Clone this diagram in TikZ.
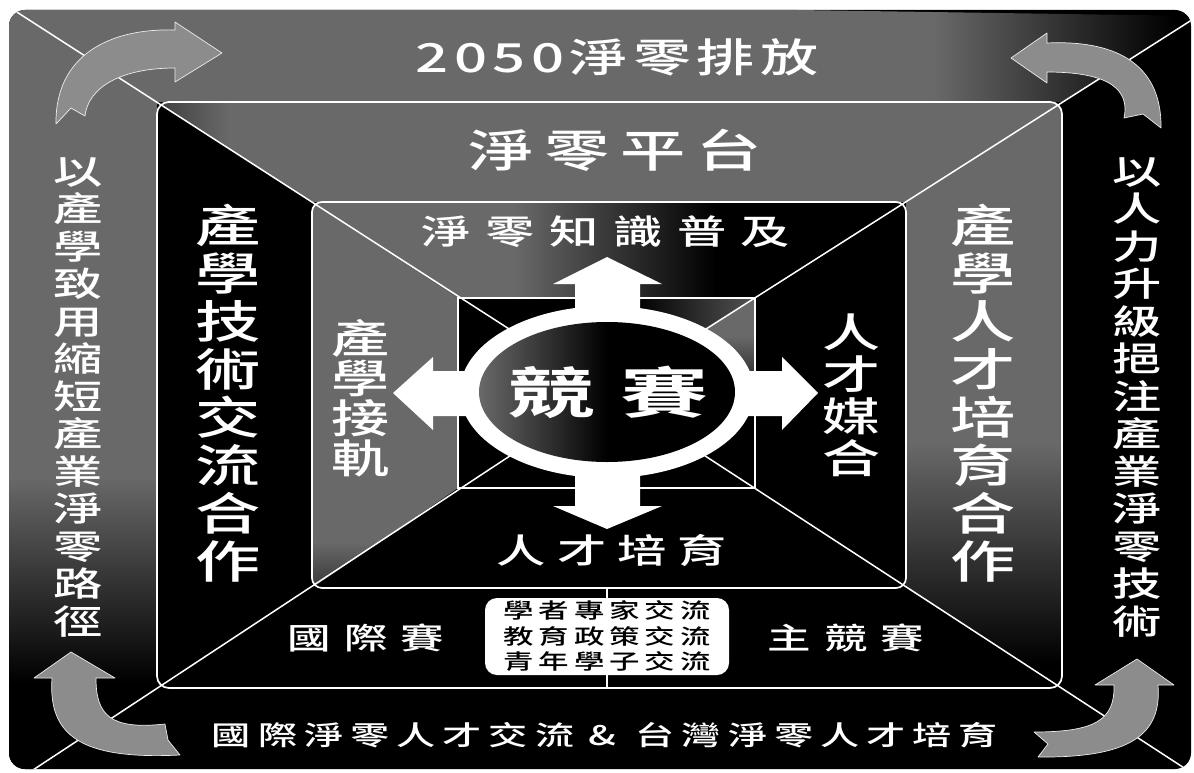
\documentclass[tikz,border=0pt]{standalone}
\usepackage{fontspec}
\newfontfamily\cjk{Noto Sans CJK TC Medium}[FakeStretch=1.45]
\newfontfamily\cjkw{Noto Sans CJK TC Bold}[FakeStretch=1.6]
\definecolor{texgray}{RGB}{105,105,105}
\definecolor{arrgray}{RGB}{140,140,140}
\pgfdeclarehorizontalshading{shOT}{100bp}{color(0bp)=(texgray); color(64bp)=(texgray); color(74bp)=(black); color(100bp)=(black)}
\pgfdeclareverticalshading{shOL}{100bp}{color(0bp)=(black); color(32bp)=(black); color(45bp)=(texgray); color(100bp)=(texgray)}
\pgfdeclarehorizontalshading{shMT}{100bp}{color(0bp)=(black); color(19bp)=(black); color(29bp)=(texgray); color(100bp)=(texgray)}
\pgfdeclareverticalshading{shMR}{100bp}{color(0bp)=(black); color(27bp)=(black); color(46bp)=(texgray); color(100bp)=(texgray)}
\pgfdeclarehorizontalshading{shIT}{100bp}{color(0bp)=(texgray); color(42bp)=(texgray); color(59bp)=(black); color(100bp)=(black)}
\pgfdeclareverticalshading{shIL}{100bp}{color(0bp)=(black); color(18bp)=(black); color(31bp)=(texgray); color(100bp)=(texgray)}
\pgfdeclarehorizontalshading{shST}{100bp}{color(0bp)=(black); color(55bp)=(black); color(80bp)=(texgray); color(100bp)=(texgray)}
\pgfdeclareverticalshading{shSR}{100bp}{color(0bp)=(black); color(45bp)=(black); color(65bp)=(texgray); color(100bp)=(texgray)}
\pgfdeclarehorizontalshading{shEL}{100bp}{color(0bp)=(texgray); color(25bp)=(texgray); color(50bp)=(black); color(100bp)=(black)}
\newcommand\lsp[2]{\def\lspk{#1}\lspaux#2\relax}
\def\lspaux#1#2{#1\ifx#2\relax\else\kern\lspk\relax\expandafter\lspaux\expandafter#2\fi}
\begin{document}
\begin{tikzpicture}[x=1pt,y=-1pt,
  wt/.style={text=white, inner sep=0pt},
  wline/.style={draw=white, line width=1.5pt},
  frame/.style={draw=white, line width=1.7pt},
  carrow/.style={fill=arrgray, draw=white!85!gray, line width=0.7pt, line join=round},
  warrow/.style={fill=white},
  vcol/.style={wt, align=center},
  boxst/.style={fill=white, rounded corners=12pt, minimum width=244pt, minimum height=77pt, inner sep=0pt, align=center, text=black}
]
\fill[white] (0,0) rectangle (1194,773);
\useasboundingbox (0,0) rectangle (1194,773);

\coordinate (C) at (607,392);
\coordinate (oTL) at (-5,-2);
\coordinate (oTR) at (1198,16);
\coordinate (oBL) at (-5,795);
\coordinate (oBR) at (1198,777);
\coordinate (mTL) at (157,102);
\coordinate (mTR) at (1062,102);
\coordinate (mBL) at (157,688);
\coordinate (mBR) at (1062,688);
\coordinate (iTL) at (312,202);
\coordinate (iTR) at (906,202);
\coordinate (iBL) at (312,588);
\coordinate (iBR) at (906,588);
\coordinate (sTL) at (458,298);
\coordinate (sTR) at (755,298);
\coordinate (sBL) at (458,488);
\coordinate (sBR) at (755,488);

% outer band
\fill[black, rounded corners=16pt] (9,10) rectangle (1191,769);
\begin{scope}
  \clip[rounded corners=16pt] (9,10) rectangle (1191,769);
  \shade[shading=shOT] (oTL) -- (oTR) -- (mTR) -- (mTL) -- cycle;
  \shade[shading=shOL] (oTL) -- (mTL) -- (mBL) -- (oBL) -- cycle;
\end{scope}
% middle band
\fill[black, rounded corners=12pt] (mTL) rectangle (mBR);
\begin{scope}
  \clip[rounded corners=12pt] (mTL) rectangle (mBR);
  \shade[shading=shMT] (mTL) -- (mTR) -- (iTR) -- (iTL) -- cycle;
  \shade[shading=shMR] (mTR) -- (mBR) -- (iBR) -- (iTR) -- cycle;
\end{scope}
% inner band
\fill[black, rounded corners=10pt] (iTL) rectangle (iBR);
\begin{scope}
  \clip[rounded corners=10pt] (iTL) rectangle (iBR);
  \shade[shading=shIT] (iTL) -- (iTR) -- (sTR) -- (sTL) -- cycle;
  \shade[shading=shIL] (iTL) -- (sTL) -- (sBL) -- (iBL) -- cycle;
\end{scope}
% innermost square
\fill[black] (sTL) rectangle (sBR);
\shade[shading=shST] (sTL) -- (sTR) -- (C) -- cycle;
\shade[shading=shSR] (sTR) -- (sBR) -- (C) -- cycle;

% diagonals
\begin{scope}
  \clip[rounded corners=16pt] (9,10) rectangle (1191,769);
  \draw[wline] (oTL) -- (C) -- (oTR);
  \draw[wline] (oBL) -- (C) -- (oBR);
\end{scope}
% frames
\draw[frame, rounded corners=12pt] (mTL) rectangle (mBR);
\draw[frame, rounded corners=10pt] (iTL) rectangle (iBR);
\draw[wline, line width=1.2pt] (sTL) rectangle (sBR);
\coordinate (vTop) at (607,588);
\coordinate (vBot) at (607,688);
\draw[wline] (vTop) -- (vBot);

% central ring
\fill[white] (C) ellipse [x radius=147pt, y radius=86pt];
\shade[shading=shEL] (C) ellipse [x radius=128pt, y radius=70pt];
% white arrows
\fill[warrow] (575,318) -- (575,284) -- (553,284) -- (607,257) -- (662,284) -- (640,284) -- (640,318) -- cycle;
\fill[warrow] (575,466) -- (575,506) -- (553,506) -- (607,529) -- (662,506) -- (640,506) -- (640,466) -- cycle;
\fill[warrow] (470,371) -- (433,371) -- (433,357) -- (393,393) -- (433,430) -- (433,416) -- (470,416) -- cycle;
\fill[warrow] (745,371) -- (782,371) -- (782,357) -- (818,393) -- (782,430) -- (782,416) -- (745,416) -- cycle;

% curved gray arrows
\draw[carrow] (175,30) .. controls (110,28) and (55,55) .. (56,124) -- (71,108) -- (85,116) .. controls (88,88) and (120,68) .. (175,68) -- (175,82) -- (222,53) -- (175,22) -- cycle;
\draw[carrow] (1047,43) .. controls (1110,40) and (1162,60) .. (1161,128) -- (1143,114) -- (1124,118) .. controls (1130,90) and (1110,72) .. (1047,72) -- (1047,83) -- (1011,58) -- (1047,33) -- cycle;
\draw[carrow] (52,678) .. controls (48,735) and (80,760) .. (180,755) -- (168,740) -- (165,724) .. controls (110,730) and (96,715) .. (96,678) -- (115,678) -- (71,652) -- (34,678) -- cycle;
\draw[carrow] (1158,685) .. controls (1162,735) and (1130,758) .. (1038,757) -- (1048,744) -- (1034,732) .. controls (1095,732) and (1115,720) .. (1114,685) -- (1095,685) -- (1137,659) -- (1174,685) -- cycle;

% texts
\node[wt, font=\cjk\fontsize{40}{42}\selectfont] (t2050) at (617,57) {\lsp{5.5pt}{2050淨零排放}};
\node[wt, font=\cjk\fontsize{45}{48}\selectfont] (tplat) at (615,150) {\lsp{11pt}{淨零平台}};
\node[wt, font=\cjk\fontsize{34}{36}\selectfont] (tknow) at (606,232) {\lsp{14.5pt}{淨零知識普及}};
\node[wt, font=\cjk\fontsize{34}{36}\selectfont] (ttal) at (612,551) {\lsp{11pt}{人才培育}};
\node[wt, font=\cjkw\fontsize{55}{58}\selectfont] (comp) at (608,392) {競\hspace{25pt}賽};

\node[vcol, font=\cjk\fontsize{34}{37.5}\selectfont] (lout) at (78,397) {以\\產\\學\\致\\用\\縮\\短\\產\\業\\淨\\零\\路\\徑};
\node[vcol, font=\cjk\fontsize{34}{37.5}\selectfont] (rout) at (1137,397) {以\\人\\力\\升\\級\\挹\\注\\產\\業\\淨\\零\\技\\術};
\node[vcol, font=\cjk\fontsize{45}{48}\selectfont] (lmid) at (228,393) {產\\學\\技\\術\\交\\流\\合\\作};
\node[vcol, font=\cjk\fontsize{45}{48}\selectfont] (rmid) at (983,393) {產\\學\\人\\才\\培\\育\\合\\作};
\node[vcol, font=\cjk\fontsize{40}{40}\selectfont] (lin) at (360,398) {產\\學\\接\\軌};
\node[vcol, font=\cjk\fontsize{40}{42}\selectfont] (rin) at (851,395) {人\\才\\媒\\合};

\node[wt, font=\cjk\fontsize{30}{32}\selectfont] (intl) at (366,638) {\lsp{13pt}{國際賽}};
\node[wt, font=\cjk\fontsize{30}{32}\selectfont] (mainc) at (846,638) {\lsp{13pt}{主競賽}};
\node[boxst, font=\cjk\fontsize{21}{25.5}\selectfont] (box) at (607,636.5) {\lsp{5pt}{學者專家交流}\\\lsp{5pt}{教育政策交流}\\\lsp{5pt}{青年學子交流}};
\node[wt, font=\cjk\fontsize{27}{29}\selectfont] (bot) at (605,735) {\lsp{7pt}{國際淨零人才交流}\hspace{14pt}\&\hspace{20pt}\lsp{7pt}{台灣淨零人才培育}};
\end{tikzpicture}
\end{document}
